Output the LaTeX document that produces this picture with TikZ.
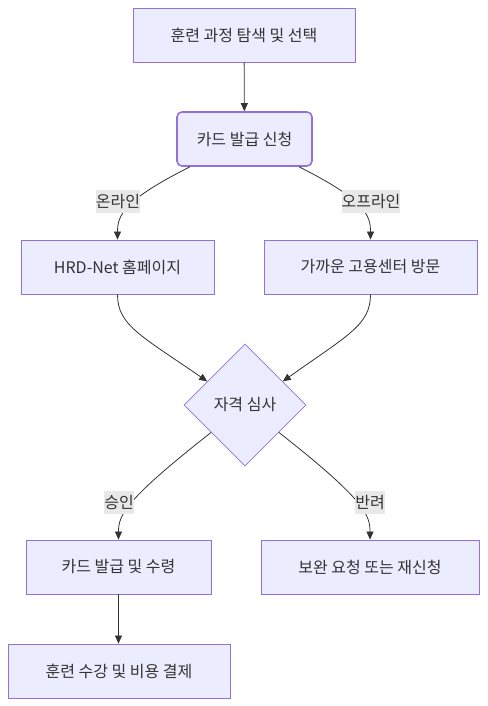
\documentclass[tikz,border=0pt]{standalone}
\usepackage{fontspec}
\setmainfont{Noto Sans CJK KR}
\usetikzlibrary{shapes.geometric,arrows.meta}
\definecolor{boxfill}{HTML}{ECECFF}
\definecolor{boxline}{HTML}{9370DB}
\definecolor{inkgray}{HTML}{333333}
\definecolor{lblfill}{HTML}{E8E8E8}
\begin{document}
\begin{tikzpicture}[x=1pt, y=1pt,
    box/.style={draw=boxline, fill=boxfill, line width=0.8pt, minimum height=54pt, inner sep=0pt, text=inkgray, font=\fontsize{16}{19}\selectfont},
    rbox/.style={box, rounded corners=5pt, line width=1.6pt},
    check/.style={box, diamond, minimum width=122pt, minimum height=122pt},
    edge/.style={draw=inkgray, line width=0.8pt, -{Triangle[length=8pt,width=7pt]}},
    lbl/.style={fill=lblfill, text=inkgray, inner sep=0pt, minimum height=23pt, font=\fontsize{16}{19}\selectfont}]
    \useasboundingbox (0,0) rectangle (487,706);

    \node[box, minimum width=222pt] (A) at (244,671) {훈련 과정 탐색 및 선택};
    \node[rbox, minimum width=135pt] (B) at (244.5,567) {카드 발급 신청};
    \node[box, minimum width=193pt] (C) at (117.5,439) {HRD-Net 홈페이지};
    \node[box, minimum width=213pt] (D) at (370.5,439) {가까운 고용센터 방문};
    \node[check] (E) at (245,301) {자격 심사};
    \node[box, minimum width=185pt] (F) at (118.5,139) {카드 발급 및 수령};
    \node[box, minimum width=218pt] (G) at (370,139) {보완 요청 또는 재신청};
    \node[box, minimum width=222pt] (H) at (119,35) {훈련 수강 및 비용 결제};

    \draw[edge] (A) -- (B);
    \draw[edge] ([xshift=-54.5pt]B.south) .. controls (124,506) and (117.5,491) .. (C.north);
    \draw[edge] ([xshift=54.5pt]B.south) .. controls (365,506) and (370.5,491) .. (D.north);
    \draw[edge] (C.south) .. controls (117.5,381) and (140,371) .. (E.148);
    \draw[edge] (D.south) .. controls (370.5,381) and (348,371) .. (E.32);
    \draw[edge] (E.219) .. controls (125,206) and (118.5,191) .. (F.north);
    \draw[edge] (E.321) .. controls (365,206) and (370,191) .. (G.north);
    \draw[edge] (F.south) -- (F.south |- H.north);

    \node[lbl] (online) at (118,504) {온라인};
    \node[lbl] (offline) at (371,504) {오프라인};
    \node[lbl] (approve) at (119,203) {승인};
    \node[lbl] (reject) at (370,203) {반려};
\end{tikzpicture}
\end{document}
